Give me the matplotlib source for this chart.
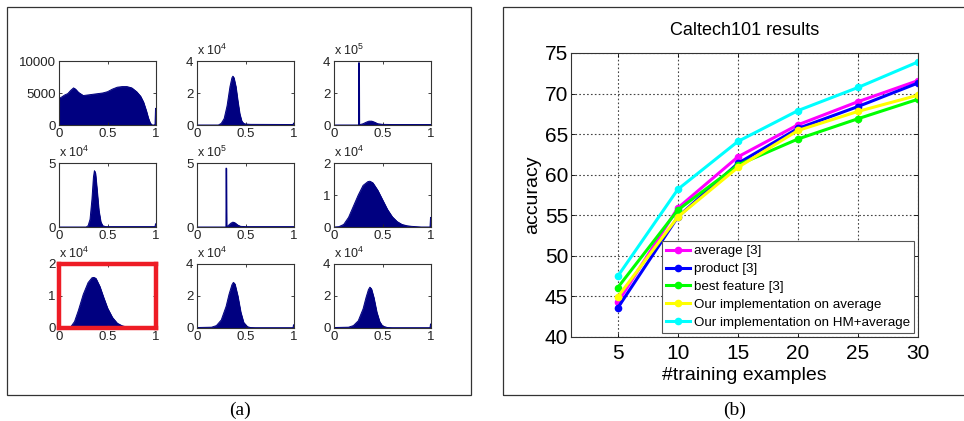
import numpy as np
import matplotlib
matplotlib.use('Agg')
import matplotlib.pyplot as plt
from matplotlib.patches import Rectangle

plt.rcParams['font.family'] = ['Liberation Sans', 'DejaVu Sans']
plt.rcParams['mathtext.fontset'] = 'custom'
plt.rcParams['mathtext.rm'] = 'Liberation Sans'
plt.rcParams['mathtext.it'] = 'Liberation Sans'

W, H = 964, 421

# ---- (a) histogram outlines (bin value at x) ----
x1 = [0, 0.005, 0.01, 0.03, 0.06, 0.09, 0.12, 0.15, 0.17, 0.2, 0.25, 0.3, 0.35, 0.4, 0.45, 0.5,
      0.55, 0.6, 0.65, 0.7, 0.75, 0.8, 0.84, 0.87, 0.9, 0.92, 0.94, 0.96, 0.98, 0.99, 0.995, 1.0]
y1 = [4700, 4000, 4200, 4400, 4700, 4900, 5400, 5800, 5600, 5100, 4600, 4700, 4800, 4900, 5000, 5200,
      5600, 5900, 6000, 6000, 5800, 5200, 4500, 3600, 2200, 1100, 300, 0, 0, 100, 2600, 2600]

x2 = [0, 0.22, 0.25, 0.28, 0.31, 0.34, 0.36, 0.37, 0.38, 0.40, 0.42, 0.44, 0.46, 0.48, 0.5, 0.55, 0.99, 0.995, 1.0]
y2 = [0, 0.0, 0.1, 0.4, 1.2, 2.4, 2.95, 3.05, 2.95, 2.4, 1.5, 0.7, 0.25, 0.1, 0.06, 0.04, 0.03, 0.12, 0.12]

x3 = [0, 0.255, 0.256, 0.258, 0.26, 0.27, 0.3, 0.33, 0.36, 0.39, 0.42, 0.45, 0.5, 0.6, 1.0]
y3 = [0, 0, 3.9, 3.9, 0.02, 0.03, 0.08, 0.17, 0.24, 0.24, 0.17, 0.08, 0.04, 0.03, 0.03]

x4 = [0, 0.28, 0.30, 0.32, 0.34, 0.355, 0.365, 0.375, 0.39, 0.41, 0.43, 0.45, 0.48, 0.99, 0.995, 1.0]
y4 = [0, 0, 0.1, 0.6, 2.2, 3.9, 4.4, 4.2, 3.0, 1.3, 0.4, 0.1, 0.03, 0.03, 0.25, 0.25]

x5 = [0, 0.298, 0.30, 0.302, 0.305, 0.32, 0.35, 0.37, 0.39, 0.42, 0.45, 0.5, 1.0]
y5 = [0, 0, 4.6, 4.6, 0.03, 0.1, 0.3, 0.38, 0.33, 0.15, 0.05, 0.03, 0.03]

x6 = [0, 0.05, 0.1, 0.15, 0.2, 0.25, 0.3, 0.35, 0.37, 0.4, 0.45, 0.5, 0.55, 0.6, 0.65, 0.7,
      0.75, 0.8, 0.85, 0.9, 0.99, 0.995, 1.0]
y6 = [0, 0.01, 0.08, 0.3, 0.65, 1.0, 1.3, 1.42, 1.43, 1.38, 1.15, 0.85, 0.55, 0.32, 0.17, 0.08,
      0.04, 0.02, 0.01, 0.0, 0.0, 0.3, 0.3]

x7 = [0, 0.08, 0.12, 0.16, 0.2, 0.25, 0.3, 0.34, 0.36, 0.38, 0.42, 0.46, 0.5, 0.55, 0.6, 0.65, 0.7, 0.75, 0.8, 1.0]
y7 = [0, 0, 0.03, 0.2, 0.55, 1.05, 1.42, 1.57, 1.58, 1.55, 1.3, 0.95, 0.62, 0.33, 0.15, 0.07, 0.03, 0.01, 0, 0]

x8 = [0, 0.15, 0.2, 0.25, 0.3, 0.33, 0.36, 0.375, 0.39, 0.42, 0.45, 0.48, 0.52, 0.55, 0.6, 0.99, 0.995, 1.0]
y8 = [0.03, 0.05, 0.15, 0.5, 1.35, 2.1, 2.7, 2.85, 2.75, 2.0, 1.0, 0.35, 0.08, 0.03, 0.02, 0.02, 0.2, 0.2]

x9 = [0, 0.15, 0.2, 0.25, 0.3, 0.33, 0.355, 0.37, 0.385, 0.41, 0.44, 0.47, 0.5, 0.55, 0.6, 0.99, 0.995, 1.0]
y9 = [0.03, 0.05, 0.15, 0.45, 1.2, 1.9, 2.4, 2.55, 2.45, 1.9, 1.0, 0.4, 0.12, 0.03, 0.02, 0.02, 0.25, 0.25]

hists = [(x1, y1), (x2, y2), (x3, y3), (x4, y4), (x5, y5), (x6, y6), (x7, y7), (x8, y8), (x9, y9)]
ymax = [10000, 4, 4, 5, 5, 2, 2, 4, 4]
yticks = [[0, 5000, 10000], [0, 2, 4], [0, 2, 4], [0, 5], [0, 5], [0, 1, 2], [0, 1, 2], [0, 2, 4], [0, 2, 4]]
exps = [None, 4, 5, 4, 5, 4, 4, 4, 4]

# ---- (b) Caltech101 results ----
n_train = [5, 10, 15, 20, 25, 30]
acc_average = [44.3, 55.9, 62.2, 66.15, 69.0, 71.6]
acc_product = [43.6, 54.8, 61.4, 65.7, 68.4, 71.3]
acc_best = [46.1, 55.65, 61.2, 64.4, 66.9, 69.3]
acc_ours_avg = [44.95, 54.8, 60.9, 65.45, 67.8, 69.8]
acc_ours_hm = [47.5, 58.2, 64.1, 67.9, 70.75, 73.9]
series = [
    ('average [3]', acc_average, '#ff00ff'),
    ('product [3]', acc_product, '#0000ff'),
    ('best feature [3]', acc_best, '#00ff00'),
    ('Our implementation on average', acc_ours_avg, '#ffff00'),
    ('Our implementation on HM+average', acc_ours_hm, '#00ffff'),
]


def px_axes(fig, x0, y0, x1, y1):
    return fig.add_axes([x0 / W, 1 - y1 / H, (x1 - x0) / W, (y1 - y0) / H])


fig = plt.figure(figsize=(W / 100, H / 100), dpi=100)

# outer frames
fig.add_artist(Rectangle((7 / W, 1 - 395 / H), 464 / W, 388 / H, transform=fig.transFigure,
                         fill=False, edgecolor='#333333', lw=0.9))
fig.add_artist(Rectangle((503 / W, 1 - 395 / H), 470 / W, 388 / H, transform=fig.transFigure,
                         fill=False, edgecolor='#333333', lw=0.9))

cols = [(59, 156), (197, 294), (334, 431)]
rows = [(61, 125), (163, 227), (264, 328)]
navy = '#000080'
for i, (hx, hy) in enumerate(hists):
    r, c = divmod(i, 3)
    ax = px_axes(fig, cols[c][0], rows[r][0], cols[c][1], rows[r][1])
    ax.fill_between(hx, hy, facecolor=navy, edgecolor=navy, lw=0.6)
    ax.plot(hx, hy, color=navy, lw=0.7)
    ax.set_xlim(0, 1)
    ax.set_ylim(0, ymax[i])
    ax.set_xticks([0, 0.5, 1])
    ax.set_xticklabels(['0', '0.5', '1'])
    ax.set_yticks(yticks[i])
    ax.set_yticklabels([str(t) for t in yticks[i]])
    ax.tick_params(direction='in', length=2, width=0.6, labelsize=9.5, pad=2.5,
                   top=True, right=True, colors='#222222')
    for s in ax.spines.values():
        s.set_color('#333333')
        s.set_linewidth(0.8)
    if exps[i] is not None:
        ax.text(0, 1.04, r'x 10$^{%d}$' % exps[i], transform=ax.transAxes,
                fontsize=9, ha='left', va='bottom', color='#222222')
    if i == 6:
        for s in ax.spines.values():
            s.set_color('#ee1c25')
            s.set_linewidth(3.2)

# right chart
ax = px_axes(fig, 571, 53, 918, 337)
for label, vals, col in series:
    ax.plot(n_train, vals, color=col, lw=2.2, marker='o', ms=4.5, label=label)
ax.set_xlim(1.1, 30)
ax.set_ylim(40, 75)
ax.set_xticks(n_train)
ax.set_yticks(range(40, 76, 5))
ax.grid(True, color='#444444', linestyle=(0, (1.5, 2)), lw=0.8)
ax.tick_params(direction='in', length=3, width=0.6, labelsize=15, pad=2,
               top=True, right=True)
ax.tick_params(axis='x', pad=5)
for s in ax.spines.values():
    s.set_color('#333333')
    s.set_linewidth(0.8)
ax.set_title('Caltech101 results', fontsize=13, pad=13)
ax.set_xlabel('#training examples', fontsize=14, labelpad=3)
ax.set_ylabel('accuracy', fontsize=14, labelpad=3)
leg = ax.legend(loc='lower right', fontsize=9.6, fancybox=False, framealpha=1,
                edgecolor='#555555', borderaxespad=0.3, handlelength=1.8,
                handletextpad=0.3, labelspacing=0.42, borderpad=0.3)
leg.get_frame().set_linewidth(0.8)

fig.text(240 / W, 1 - 410 / H, '(a)', fontsize=14, family='Liberation Serif',
         ha='center', va='center')
fig.text(735 / W, 1 - 410 / H, '(b)', fontsize=14, family='Liberation Serif',
         ha='center', va='center')

fig.savefig('out.png', dpi=100)
